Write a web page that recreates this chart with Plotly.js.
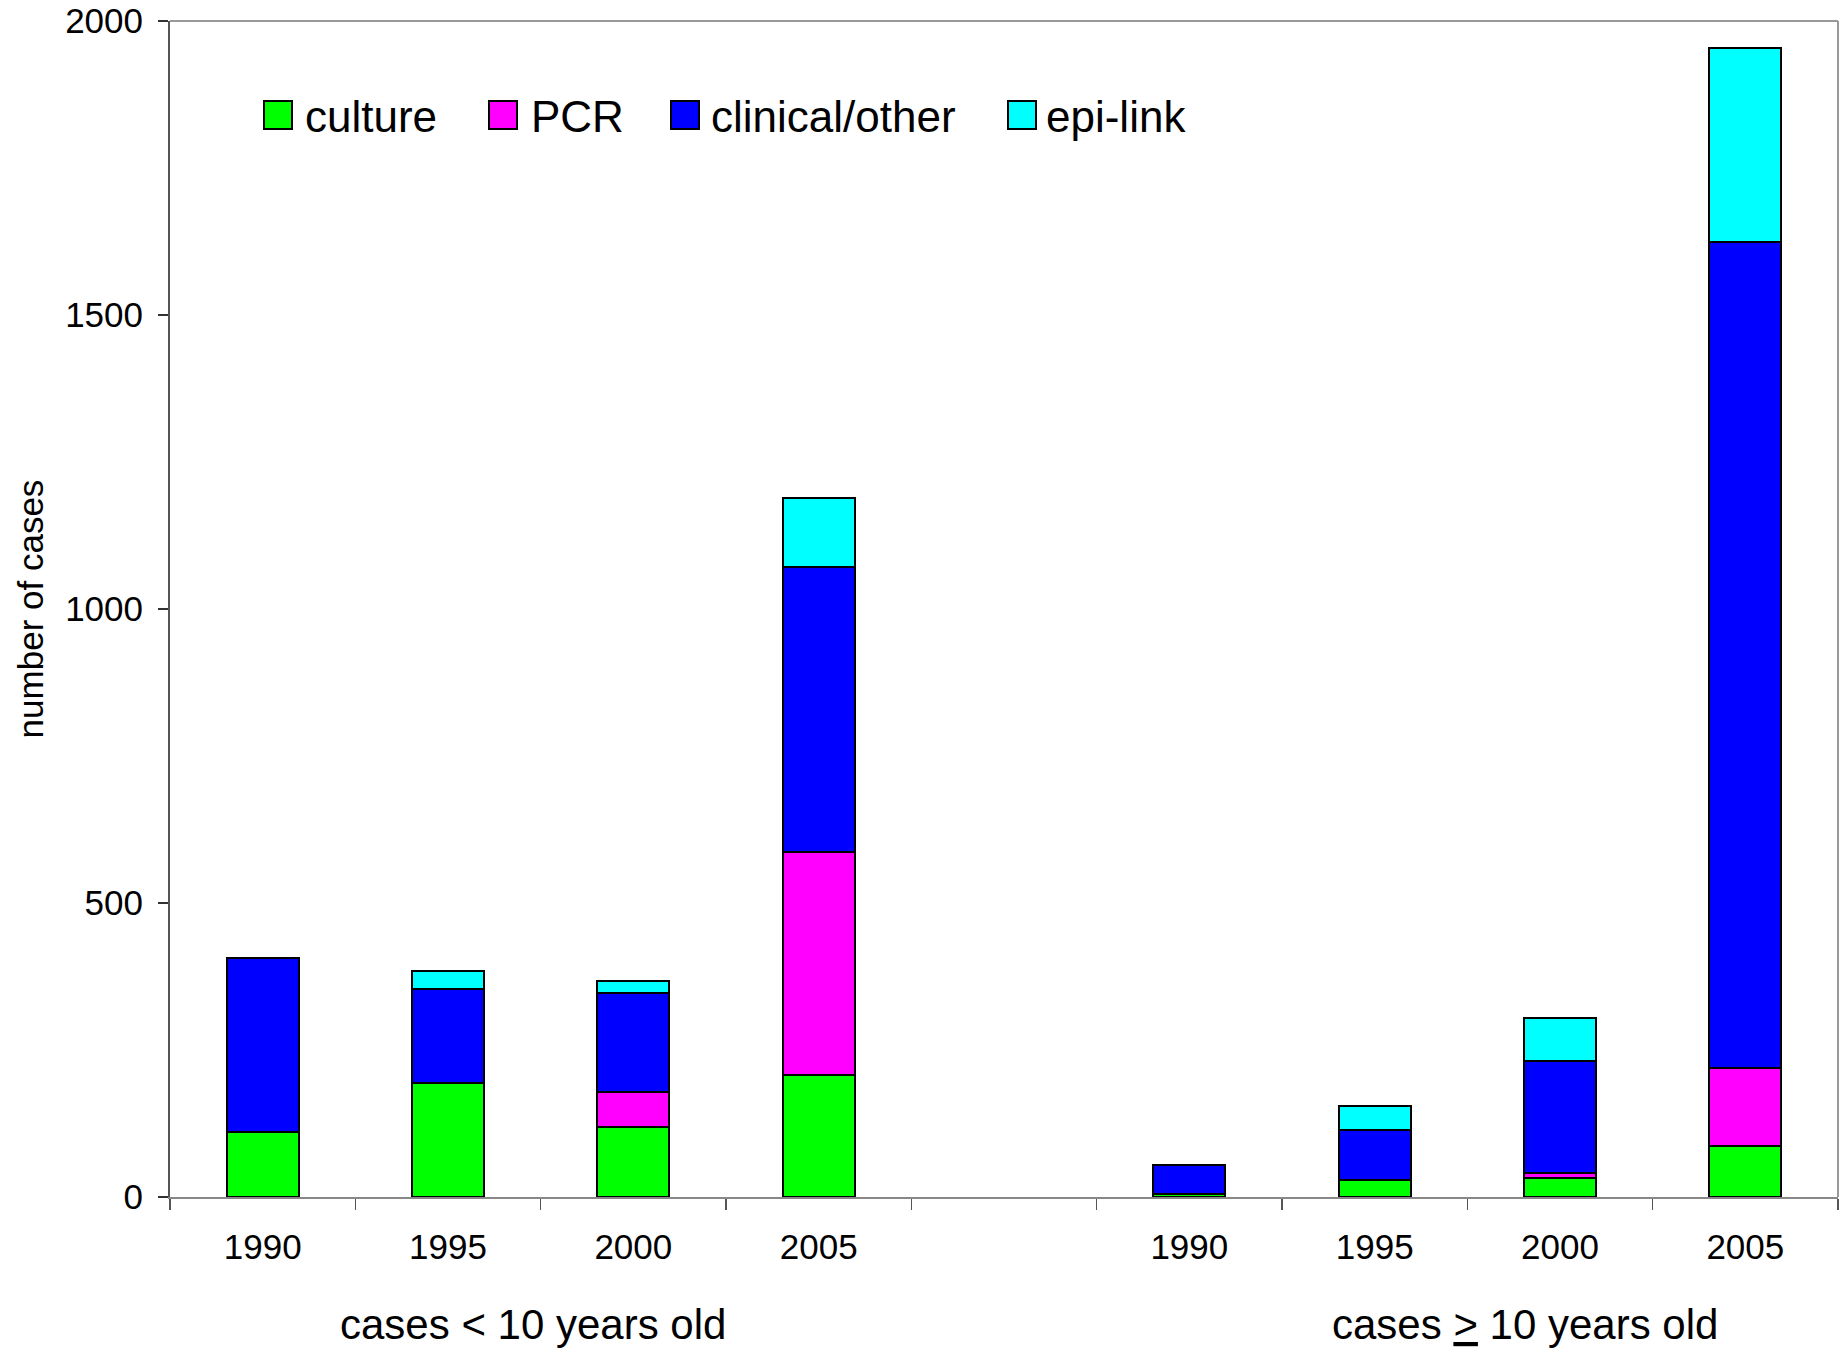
<!DOCTYPE html>
<html>
<head>
<meta charset="utf-8">
<script src="https://cdn.plot.ly/plotly-3.0.1.min.js"></script>
<style>html,body{margin:0;padding:0;background:#fff;}#chart{width:1848px;height:1349px;}</style>
</head>
<body>
<div id="chart"></div>
<script>
// ---- data ----
const years = ['1990', '1995', '2000', '2005'];
const groupLabels = ['cases &lt; 10 years old', 'cases <u>&gt;</u> 10 years old'];
const seriesNames = ['culture', 'PCR', 'clinical/other', 'epi-link'];
const seriesColors = ['#00FF00', '#FF00FF', '#0000FF', '#00FFFF'];

// cases < 10 years old
const cultureUnder10 = [110, 194, 119, 207];
const pcrUnder10 = [0, 0, 59, 380];
const clinicalUnder10 = [297, 159, 169, 485];
const epiUnder10 = [0, 31, 21, 116];

// cases >= 10 years old
const cultureOver10 = [5, 29, 32, 86];
const pcrOver10 = [0, 0, 9, 133];
const clinicalOver10 = [50, 85, 191, 1406];
const epiOver10 = [0, 40, 72, 329];

const yTicks = [0, 500, 1000, 1500, 2000];

// ---- layout helpers ----
const W = 1848, H = 1349;
const M = {l: 170, r: 10, t: 21, b: 152};
const plotW = W - M.l - M.r, plotH = H - M.t - M.b;
const px2x = px => (px - M.l) / plotW;
const px2y = py => (H - M.b - py) / plotH;

// slot positions: group 1 at 0..3, empty slot 4, group 2 at 5..8
const xUnder = years.map((_, i) => i);
const xOver = years.map((_, i) => i + years.length + 1);
const xAll = xUnder.concat(xOver);

const seriesValues = [
  cultureUnder10.concat(cultureOver10),
  pcrUnder10.concat(pcrOver10),
  clinicalUnder10.concat(clinicalOver10),
  epiUnder10.concat(epiOver10)
];

const traces = seriesNames.map((name, k) => ({
  type: 'bar',
  name: name,
  x: xAll,
  y: seriesValues[k],
  width: 0.39,
  marker: {color: seriesColors[k], line: {color: '#000', width: 2}},
  showlegend: false,
  hoverinfo: 'name+y'
}));

const FONT = '"Liberation Sans", Arial, sans-serif';

// custom legend (large squares like the original)
const legendSquareLeft = [264, 489, 671, 1008];
const legendTextLeft = [303, 529, 709, 1044];
const legendCenterY = 115;
const sq = 28;

const shapes = [];
const annotations = [];
seriesNames.forEach((name, k) => {
  shapes.push({
    type: 'rect', xref: 'paper', yref: 'paper',
    x0: px2x(legendSquareLeft[k]), x1: px2x(legendSquareLeft[k] + sq),
    y0: px2y(legendCenterY + sq / 2), y1: px2y(legendCenterY - sq / 2),
    fillcolor: seriesColors[k], line: {color: '#000', width: 2}
  });
  annotations.push({
    xref: 'paper', yref: 'paper',
    x: px2x(legendTextLeft[k]), y: px2y(legendCenterY + 2),
    xanchor: 'left', yanchor: 'middle', showarrow: false,
    text: name, font: {family: FONT, size: 44, color: '#000'}
  });
});

// top and right frame
shapes.push({type: 'line', xref: 'paper', yref: 'paper', x0: 0, x1: 1, y0: 1, y1: 1, line: {color: '#999', width: 2}});
shapes.push({type: 'line', xref: 'paper', yref: 'paper', x0: 1, x1: 1, y0: 0, y1: 1, line: {color: '#999', width: 2}});

// group labels
const groupCenters = [1.46, 6.81];
groupLabels.forEach((t, i) => {
  annotations.push({
    xref: 'x', yref: 'paper', x: groupCenters[i], y: px2y(1325),
    xanchor: 'center', yanchor: 'middle', showarrow: false,
    text: t, font: {family: FONT, size: 42, color: '#000'}
  });
});

const boundaries = [];
for (let i = 0; i <= 9; i++) boundaries.push(i - 0.5);

const layout = {
  width: W, height: H,
  margin: M,
  paper_bgcolor: '#fff', plot_bgcolor: '#fff',
  barmode: 'stack',
  font: {family: FONT, color: '#000'},
  showlegend: false,
  xaxis: {
    type: 'linear', range: [-0.5, 8.5],
    tickmode: 'array', tickvals: xAll, ticktext: years.concat(years),
    ticks: '', showgrid: false, zeroline: false,
    showline: true, linecolor: '#888', linewidth: 2,
    tickfont: {family: FONT, size: 35, color: '#000'},
    ticklabelstandoff: 18,
    minor: {tickmode: 'array', tickvals: boundaries, ticks: 'outside', ticklen: 11, tickwidth: 1.5, tickcolor: '#555', showgrid: false}
  },
  yaxis: {
    range: [0, 2000], tickmode: 'array', tickvals: yTicks,
    ticks: 'outside', ticklen: 10, tickwidth: 1.5, tickcolor: '#333',
    showgrid: false, zeroline: false,
    showline: true, linecolor: '#555', linewidth: 2,
    tickfont: {family: FONT, size: 35, color: '#000'},
    ticklabelstandoff: 8,
    title: {text: 'number of cases', font: {family: FONT, size: 35, color: '#000'}, standoff: 11}
  },
  shapes: shapes,
  annotations: annotations
};

Plotly.newPlot('chart', traces, layout, {displayModeBar: false, staticPlot: true});
</script>
</body>
</html>
